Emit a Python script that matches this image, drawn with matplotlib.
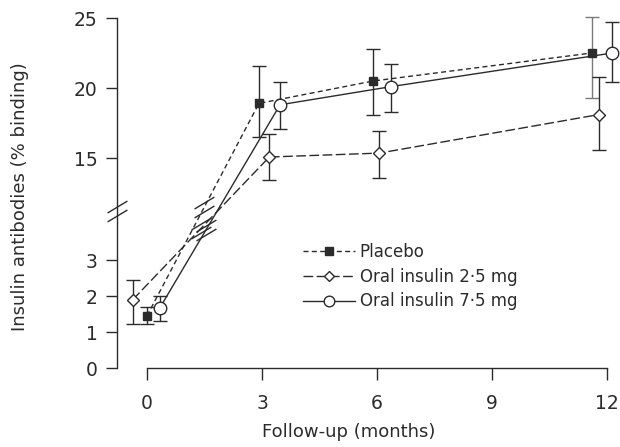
import numpy as np
import matplotlib
matplotlib.use('Agg')
import matplotlib.pyplot as plt
from matplotlib.path import Path

# follow-up month per group (groups drawn slightly apart) and binding %
placebo_x = [0.0, 2.92, 5.9, 11.6]
placebo_y = [1.45, 18.9, 20.5, 22.5]
placebo_lo = [1.22, 16.5, 18.1, 19.3]
placebo_hi = [1.7, 21.6, 22.8, 25.1]

low_x = [-0.37, 3.19, 6.06, 11.78]
low_y = [1.9, 15.07, 15.35, 18.1]
low_lo = [1.22, 13.4, 13.6, 15.6]
low_hi = [2.45, 16.7, 16.9, 20.8]

high_x = [0.34, 3.47, 6.37, 12.14]
high_y = [1.68, 18.8, 20.1, 22.5]
high_lo = [1.3, 17.1, 18.3, 20.4]
high_hi = [2.0, 20.4, 21.7, 24.7]

xticks = [0, 3, 6, 9, 12]
yticks = [0, 1, 2, 3, 15, 20, 25]
labels = ['Placebo', 'Oral insulin 2\u00b75 mg', 'Oral insulin 7\u00b75 mg']

ink = '#2b2b2b'
faint = '#7a7a7a'
plt.rcParams['font.family'] = 'DejaVu Sans'


# broken y axis: 0-3 stretched, 15-25 compressed, squeezed gap between
def fwd(v):
    v = np.asarray(v, dtype=float)
    return np.where(v <= 3, 36 * v,
                    np.where(v >= 11, 210 + 14 * (v - 15), 108 + (v - 3) * 46 / 8))


def inv(y):
    y = np.asarray(y, dtype=float)
    return np.where(y <= 108, y / 36,
                    np.where(y >= 154, 15 + (y - 210) / 14, 3 + (y - 108) * 8 / 46))


# double slash used for the axis break and on the lines crossing it
brk = Path([(-10, -1.5), (10, 10.5), (-10, -10.5), (10, 1.5)],
           [Path.MOVETO, Path.LINETO, Path.MOVETO, Path.LINETO])

fig = plt.figure(figsize=(6.2, 4.47), dpi=100)
ax = fig.add_axes([117 / 620, 79 / 447, 500 / 620, 354.2 / 447])
ax.set_yscale('function', functions=(fwd, inv))
ax.set_xlim(-0.783, 12.26)
ax.set_ylim(0, 25.3)

series = [
    (placebo_x, placebo_y, placebo_lo, placebo_hi, 's', ink, (0, (3.6, 2.4)), 6, 0.51,
     [ink, ink, ink, faint]),
    (low_x, low_y, low_lo, low_hi, 'D', 'white', (0, (7, 2.5)), 6.5, 0.5, [ink] * 4),
    (high_x, high_y, high_lo, high_hi, 'o', 'white', '-', 9, 0.38, [ink] * 4),
]

handles = []
for (x, y, lo, hi, mk, fc, ls, ms, t, ecols), lab in zip(series, labels):
    x = np.array(x)
    y = np.array(y)
    for xi, yi, l, h, ec in zip(x, y, lo, hi, ecols):
        ax.errorbar([xi], [yi], yerr=[[yi - l], [h - yi]], fmt='none', ecolor=ec,
                    elinewidth=1, capsize=5, capthick=1, clip_on=False, zorder=2)
    h, = ax.plot(x, y, ls=ls, color=ink, lw=1, marker=mk, ms=ms, mfc=fc,
                 mec=ink, mew=1, clip_on=False, zorder=3, label=lab)
    handles.append(h)
    # break mark on the segment from month 0 to month 3
    bx = x[0] + t * (x[1] - x[0])
    by = inv(fwd(y[0]) + t * (fwd(y[1]) - fwd(y[0])))
    ax.plot([bx], [by], ls='none', marker=brk, ms=15, mec=ink, mew=1,
            clip_on=False, zorder=4)

# break on the y axis itself
ax.plot([0], [157 / 354.2], transform=ax.transAxes, ls='none', marker=brk,
        ms=15, mec=ink, mew=1, clip_on=False, zorder=4)

for s in ['top', 'right']:
    ax.spines[s].set_visible(False)
ax.spines['left'].set_bounds(0, 25)
ax.spines['bottom'].set_bounds(0, 12)
for s in ['left', 'bottom']:
    ax.spines[s].set_color(ink)
    ax.spines[s].set_linewidth(1)

ax.set_xticks(xticks)
ax.set_xticklabels([str(v) for v in xticks])
ax.set_yticks(yticks)
ax.set_yticklabels([str(v) for v in yticks])
ax.minorticks_off()
ax.tick_params(axis='y', direction='out', length=8, width=1, color=ink,
               labelsize=13.5, labelcolor=ink, pad=6)
ax.tick_params(axis='x', direction='out', length=8.5, width=1, color=ink,
               labelsize=13.5, labelcolor=ink, pad=10)

fig.text(20 / 620, 1 - 197 / 447, 'Insulin antibodies (% binding)', rotation=90,
         ha='center', va='center', fontsize=13, color=ink)
fig.text(349 / 620, 1 - 432 / 447, 'Follow-up (months)', ha='center',
         va='center', fontsize=13, color=ink)

leg = ax.legend(handles=handles, loc='upper left',
                bbox_to_anchor=(303 / 620, 1 - 243 / 447),
                bbox_transform=fig.transFigure, frameon=False, fontsize=12,
                handlelength=3.1, handletextpad=0.3, labelspacing=0.4, borderpad=0,
                borderaxespad=0, numpoints=1, labelcolor=ink, markerscale=0.85)

fig.savefig('out.png', dpi=100)
